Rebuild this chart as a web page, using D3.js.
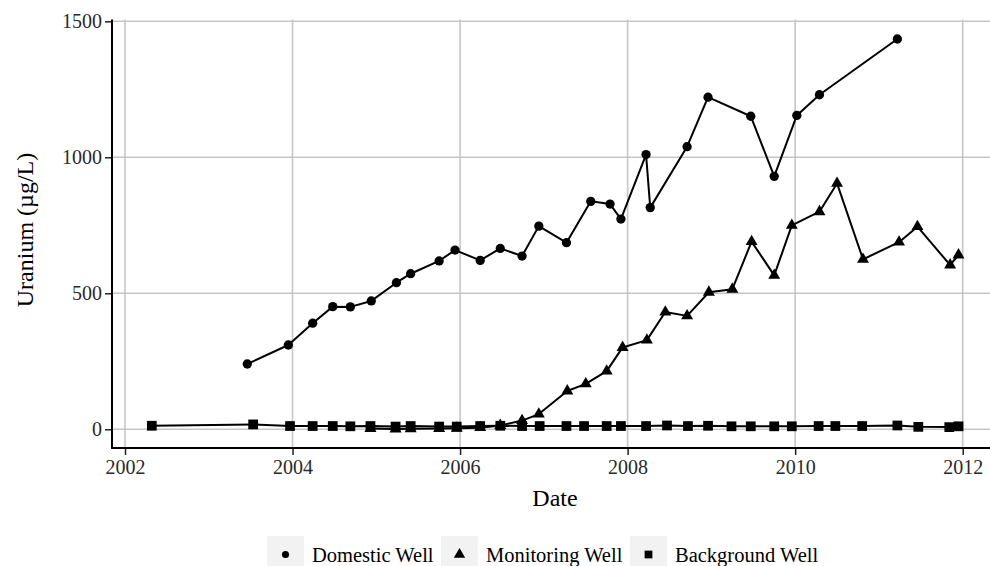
<!DOCTYPE html>
<html>
<head>
<meta charset="utf-8">
<script src="https://cdn.jsdelivr.net/npm/d3@7"></script>
<style>
  html, body { margin: 0; padding: 0; background: #fff; }
  svg { display: block; font-family: "Liberation Serif", "Times New Roman", serif; }
</style>
</head>
<body>
<svg id="chart" width="990" height="566"></svg>
<script>
// ---- Data (decimal years, uranium µg/L) ----
const domesticDates = [2003.46, 2003.95, 2004.24, 2004.48, 2004.69, 2004.94, 2005.24, 2005.41, 2005.75, 2005.94,
  2006.24, 2006.48, 2006.74, 2006.94, 2007.27, 2007.56, 2007.79, 2007.92, 2008.22, 2008.27,
  2008.71, 2008.96, 2009.47, 2009.75, 2010.02, 2010.29, 2011.22];
const domesticValues = [240, 310, 390, 451, 450, 472, 539, 572, 619, 659,
  621, 665, 637, 747, 686, 838, 828, 773, 1010, 815,
  1039, 1221, 1151, 930, 1154, 1230, 1435];

const monitoringDates = [2004.93, 2005.23, 2005.41, 2005.75, 2005.96, 2006.24, 2006.48, 2006.74, 2006.94, 2007.28,
  2007.50, 2007.75, 2007.94, 2008.23, 2008.45, 2008.71, 2008.97, 2009.25, 2009.48, 2009.75,
  2009.96, 2010.29, 2010.50, 2010.81, 2011.24, 2011.46, 2011.85, 2011.95];
const monitoringValues = [3, 1, 2, 3, 4, 6, 14, 32, 56, 141,
  167, 214, 301, 328, 431, 417, 504, 515, 690, 566,
  750, 800, 904, 625, 688, 745, 604, 641];

const backgroundDates = [2002.32, 2003.53, 2003.97, 2004.24, 2004.48, 2004.69, 2004.93, 2005.23, 2005.41, 2005.75,
  2005.96, 2006.24, 2006.48, 2006.74, 2006.95, 2007.27, 2007.48, 2007.75, 2007.92, 2008.22,
  2008.47, 2008.72, 2008.96, 2009.24, 2009.47, 2009.75, 2009.96, 2010.28, 2010.48, 2010.80,
  2011.22, 2011.47, 2011.84, 2011.95];
const backgroundValues = [13, 18, 12, 12, 12, 11, 12, 10, 12, 10,
  10, 12, 13, 12, 12, 12, 12, 12, 12, 12,
  14, 12, 13, 11, 11, 11, 11, 12, 12, 12,
  14, 9, 8, 11];

const xTicks = [2002, 2004, 2006, 2008, 2010, 2012];
const yTicks = [0, 500, 1000, 1500];
const seriesNames = ["Domestic Well", "Monitoring Well", "Background Well"];
const xTitle = "Date";
const yTitle = "Uranium (µg/L)";

// ---- Layout ----
const svg = d3.select("#chart");
const panel = { left: 112, right: 990, top: 19.5, bottom: 448 };

const x = d3.scaleLinear().domain([2002, 2012]).range([125, 962.7]);
const y = d3.scaleLinear().domain([0, 1500]).range([429.3, 21.3]);

// grid
const grid = svg.append("g");
grid.selectAll("line.gx").data(xTicks).enter().append("line")
  .attr("x1", d => x(d)).attr("x2", d => x(d))
  .attr("y1", panel.top).attr("y2", panel.bottom)
  .attr("stroke", "#c6c6c6").attr("stroke-width", 1.6);
grid.selectAll("line.gy").data(yTicks).enter().append("line")
  .attr("x1", panel.left).attr("x2", panel.right)
  .attr("y1", d => y(d)).attr("y2", d => y(d))
  .attr("stroke", "#c6c6c6").attr("stroke-width", 1.6);

// axes
const yAxis = d3.axisLeft(y).tickValues(yTicks).tickSize(7).tickPadding(3).tickFormat(d3.format("d"));
const gy = svg.append("g").attr("transform", `translate(${panel.left},0)`).call(yAxis);
gy.select(".domain").remove();
gy.selectAll(".tick line").attr("stroke", "#222").attr("stroke-width", 1.5);
gy.selectAll(".tick text").attr("font-size", 20).attr("fill", "#2a2a2a")
  .attr("font-family", "Liberation Serif, serif");

const xAxis = d3.axisBottom(x).tickValues(xTicks).tickSize(7).tickPadding(5).tickFormat(d3.format("d"));
const gx = svg.append("g").attr("transform", `translate(0,${panel.bottom})`).call(xAxis);
gx.select(".domain").remove();
gx.selectAll(".tick line").attr("stroke", "#222").attr("stroke-width", 1.5);
gx.selectAll(".tick text").attr("font-size", 20).attr("fill", "#2a2a2a")
  .attr("font-family", "Liberation Serif, serif");

svg.append("line").attr("x1", panel.left).attr("x2", panel.left)
  .attr("y1", panel.top).attr("y2", panel.bottom + 1)
  .attr("stroke", "#000").attr("stroke-width", 2);
svg.append("line").attr("x1", panel.left - 1).attr("x2", panel.right)
  .attr("y1", panel.bottom).attr("y2", panel.bottom)
  .attr("stroke", "#000").attr("stroke-width", 2);

// titles
svg.append("text").attr("x", 555).attr("y", 506).attr("text-anchor", "middle")
  .attr("font-size", 24).attr("fill", "#000").text(xTitle);
svg.append("text").attr("transform", "translate(33,230) rotate(-90)").attr("text-anchor", "middle")
  .attr("font-size", 24).attr("fill", "#000").text(yTitle);

// series
const zip = (ds, vs) => ds.map((d, i) => ({ d, v: vs[i] }));
const series = [
  { name: seriesNames[0], data: zip(domesticDates, domesticValues), sym: d3.symbolCircle, size: 68 },
  { name: seriesNames[1], data: zip(monitoringDates, monitoringValues), sym: d3.symbolTriangle, size: 62 },
  { name: seriesNames[2], data: zip(backgroundDates, backgroundValues), sym: d3.symbolSquare, size: 95 }
];
const line = d3.line().x(p => x(p.d)).y(p => y(p.v));

series.forEach(s => {
  svg.append("path").datum(s.data).attr("d", line)
    .attr("fill", "none").attr("stroke", "#000").attr("stroke-width", 2).attr("stroke-linejoin", "round");
});
series.forEach(s => {
  svg.append("g").selectAll("path").data(s.data).enter().append("path")
    .attr("d", d3.symbol().type(s.sym).size(s.size))
    .attr("transform", p => `translate(${x(p.d)},${y(p.v)})`)
    .attr("fill", "#000");
});

// legend
const legendKeys = [267, 441, 630];
const legendSizes = [40, 56, 60];
series.forEach((s, i) => {
  const kx = legendKeys[i];
  svg.append("rect").attr("x", kx).attr("y", 536).attr("width", 37).attr("height", 37).attr("fill", "#f2f2f2");
  svg.append("path").attr("d", d3.symbol().type(s.sym).size(legendSizes[i])())
    .attr("transform", `translate(${kx + 18.5},${554.5})`).attr("fill", "#000");
  svg.append("text").attr("x", kx + 45).attr("y", 562).attr("font-size", 20.5).attr("fill", "#000").text(s.name);
});
</script>
</body>
</html>
